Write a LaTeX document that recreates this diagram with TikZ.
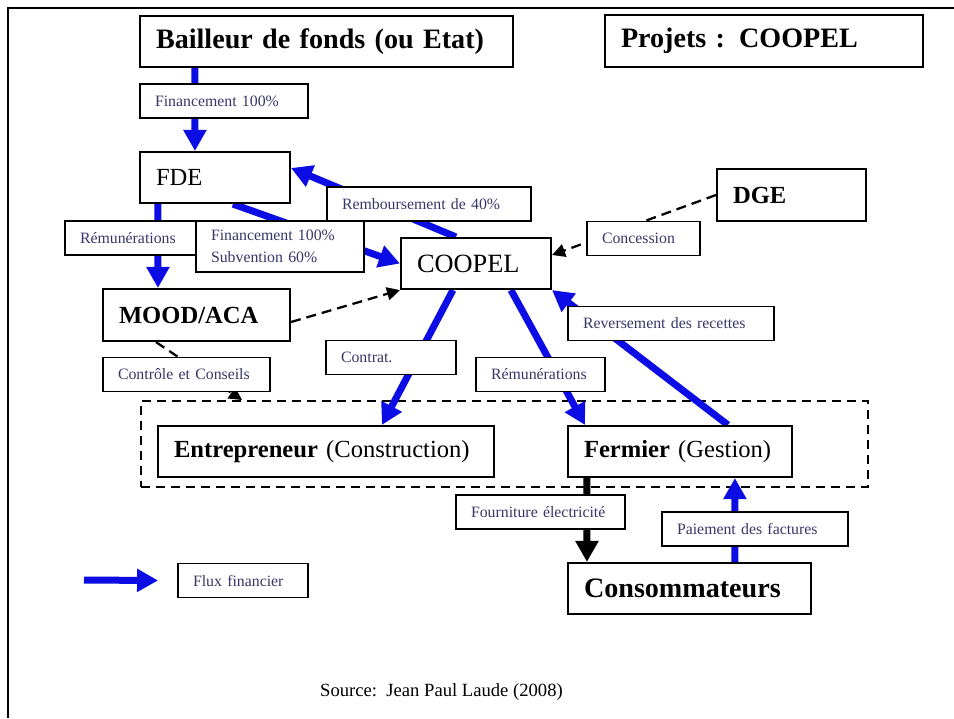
\documentclass[tikz,border=0pt]{standalone}
\usepackage{fontspec}
\setmainfont{Liberation Serif}
\usetikzlibrary{arrows.meta,backgrounds}
\definecolor{fluxblue}{RGB}{12,12,228}
\definecolor{lbltext}{RGB}{55,55,105}
\tikzset{
	box/.style={draw,line width=1.2pt,fill=white,align=left,inner xsep=0.32cm,inner ysep=0pt,minimum height=1.02cm},
	lbl/.style={draw,line width=1.1pt,fill=white,align=left,inner xsep=0.3cm,inner ysep=0pt,minimum height=0.68cm,text=lbltext,font=\fontsize{9}{12.5}\selectfont},
	fluxarrow/.style={draw=fluxblue,line width=0.14cm,-{Triangle[length=0.42cm,width=0.44cm]}},
	ctrlarrow/.style={line width=1.3pt,dash pattern=on 0.2cm off 0.12cm,-{Triangle[length=0.26cm,width=0.26cm]}},
}

\begin{document}
\begin{tikzpicture}[x=0.02cm,y=-0.02cm]
		\useasboundingbox (0,0) rectangle (954,718);
		\draw[line width=1.2pt] (8,718) -- (8,8) -- (954,8);

		\node[box,text width=6.82cm,font=\fontsize{16}{19}\selectfont\bfseries] (bailleur) at (326.5,41.5) {Bailleur de fonds (ou Etat)};
		\node[box,text width=5.72cm,minimum height=1.04cm,font=\fontsize{16}{19}\selectfont\bfseries] (projets) at (764,41) {Projets : COOPEL};
		\node[box,text width=2.36cm,font=\fontsize{14}{17}\selectfont] (fde) at (215,177.5) {FDE};
		\node[box,text width=2.36cm,font=\fontsize{15}{18}\selectfont] (coopel) at (476,263.5) {COOPEL};
		\node[box,text width=2.34cm,minimum height=1.04cm,font=\fontsize{14}{17}\selectfont\bfseries] (dge) at (791.5,195) {DGE};
		\node[box,text width=3.10cm,minimum height=1.04cm,font=\fontsize{14}{17}\selectfont\bfseries] (mood) at (196.5,315) {MOOD/ACA};
		\node[box,text width=6.08cm,font=\fontsize{14}{17}\selectfont] (entre) at (326,451.5) {\textbf{Entrepreneur} (Construction)};
		\node[box,text width=3.84cm,font=\fontsize{14}{17}\selectfont] (fermier) at (680,451.5) {\textbf{Fermier} (Gestion)};
		\node[box,text width=4.22cm,font=\fontsize{16}{19}\selectfont\bfseries] (conso) at (689.5,588.5) {Consommateurs};

		\node[lbl,text width=2.76cm] (lfin) at (224,101) {Financement 100\%};
		\node[lbl,text width=3.48cm] (lremb) at (429,204) {Remboursement de 40\%};
		\node[lbl,text width=2.3cm] (lremu) at (137.5,238) {Rémunérations};
		\node[lbl,text width=2.76cm,minimum height=1.02cm] (lfinsub) at (280,246.5) {Financement 100\%\\Subvention 60\%};
		\node[lbl,text width=1.66cm] (lconc) at (643.5,238.5) {Concession};
		\node[lbl,text width=3.52cm] (lrev) at (671,323.5) {Reversement des recettes};
		\node[lbl,text width=2.0cm] (lcontrat) at (391,357.5) {Contrat.};
		\node[lbl,text width=1.98cm] (lremub) at (540.5,374.5) {Rémunérations};
		\node[lbl,text width=2.74cm] (lctrl) at (186.5,374.5) {Contrôle et Conseils};
		\node[lbl,text width=2.78cm] (lfourn) at (540.5,512) {Fourniture électricité};
		\node[lbl,text width=3.12cm] (lpaie) at (755,529) {Paiement des factures};
		\node[lbl,text width=2.0cm] (lflux) at (243,580.5) {Flux financier};

		\node[font=\fontsize{10.6}{13}\selectfont] (source) at (441.5,692) {Source:\ \ Jean Paul Laude (2008)};
		\coordinate (legA) at (84,580);

		\begin{scope}[on background layer]
			\node[draw,line width=1.1pt,dash pattern=on 0.18cm off 0.12cm,minimum width=14.54cm,minimum height=1.72cm] (acteurs) at (504.5,444) {};
			\draw[fluxarrow] ([xshift=1.12cm]bailleur.south west) -- ([xshift=1.12cm]fde.north west);
			\draw[fluxarrow] ([xshift=0.38cm]fde.south west) -- ([xshift=1.12cm]mood.north west);
			\draw[fluxarrow] ([xshift=1.88cm]fde.south west) -- (coopel.west);
			\draw[fluxarrow] ([xshift=1.12cm]coopel.north west) -- ([yshift=0.19cm]fde.east);
			\draw[fluxarrow] ([xshift=1.06cm]coopel.south west) -- ([xshift=4.5cm]entre.north west);
			\draw[fluxarrow] ([xshift=2.22cm]coopel.south west) -- ([xshift=0.36cm]fermier.north west);
			\draw[fluxarrow] ([xshift=3.22cm]fermier.north west) -- (coopel.south east);
			\draw[fluxarrow] ([xshift=3.36cm]conso.north west) -- ([xshift=3.36cm]fermier.south west);
			\draw[fluxarrow,draw=black] ([xshift=0.4cm]fermier.south west) -- ([xshift=0.4cm]conso.north west);
			\draw[ctrlarrow] (dge.west) -- ([yshift=0.17cm]coopel.east);
			\draw[ctrlarrow] ([yshift=-0.14cm]mood.east) -- (coopel.south west);
			\draw[ctrlarrow] ([xshift=1.08cm]mood.south west) -- ([xshift=2.04cm]acteurs.north west);
			\draw[fluxarrow] (legA) -- ([xshift=-0.38cm]lflux.west);
		\end{scope}
	\end{tikzpicture}
\end{document}
